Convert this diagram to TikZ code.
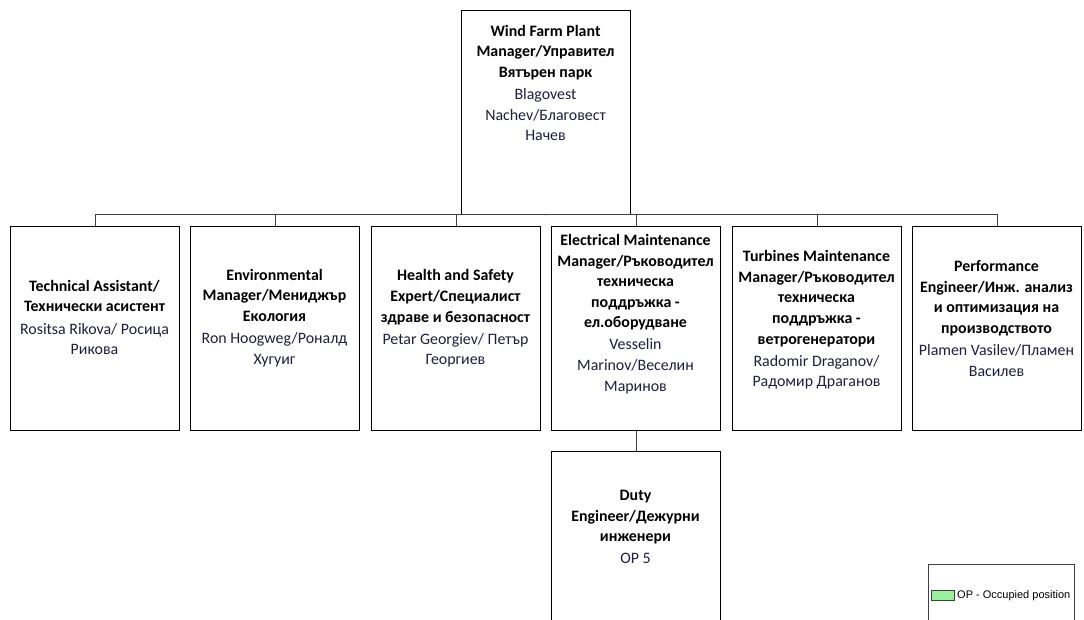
\documentclass[tikz,border=0pt]{standalone}
\usepackage{fontspec}
\setmainfont{Carlito}
\newfontfamily\legendfont{Liberation Sans}
\definecolor{conncol}{HTML}{404040}
\definecolor{nametext}{HTML}{1E1E40}
\definecolor{opgreen}{HTML}{98F098}
\begin{document}
\begin{tikzpicture}[x=1pt,y=-1pt,
  posbox/.style={draw=black,line width=1.2pt,rectangle,minimum width=169pt,minimum height=204pt,inner sep=0pt,anchor=north west},
  postext/.style={align=center,font=\fontsize{15.9}{20.6}\selectfont,inner sep=0pt},
  conn/.style={draw=conncol,line width=0.9pt},
]
\useasboundingbox (0,0) rectangle (1084,620);
\clip (0,0) rectangle (1084,620);
\fill[white] (0,0) rectangle (1084,620);

% boxes
\node[posbox] (top) at (461,10) {};
\node[posbox] (c1) at (10,226) {};
\node[posbox] (c2) at (190,226) {};
\node[posbox] (c3) at (371,226) {};
\node[posbox] (c4) at (551,226) {};
\node[posbox] (c5) at (732,226) {};
\node[posbox] (c6) at (912,226) {};
\node[posbox] (duty) at (551,451) {};

% texts
\node[postext] (ttop) at (545.5,83) {\textbf{Wind Farm Plant}\\\textbf{Manager/Управител}\\\textbf{Вятърен парк}\\[1.5pt]{\color{nametext}Blagovest}\\{\color{nametext}Nachev/Благовест}\\{\color{nametext}Начев}};
\node[postext] (t1) at (94.5,317.5) {\textbf{Technical Assistant/}\\\textbf{Технически асистент}\\[1.5pt]{\color{nametext}Rositsa Rikova/ Росица}\\{\color{nametext}Рикова}};
\node[postext] (t2) at (274.5,318) {\textbf{Environmental}\\\textbf{Manager/Мениджър}\\\textbf{Екология}\\[1.5pt]{\color{nametext}Ron Hoogweg/Роналд}\\{\color{nametext}Хугуиг}};
\node[postext] (t3) at (455.5,318.5) {\textbf{Health and Safety}\\\textbf{Expert/Специалист}\\\textbf{здраве и безопасност}\\[1.5pt]{\color{nametext}Petar Georgiev/ Петър}\\{\color{nametext}Георгиев}};
\node[postext] (t4) at (635.5,314) {\textbf{Electrical Maintenance}\\\textbf{Manager/Ръководител}\\\textbf{техническа}\\\textbf{поддръжка -}\\\textbf{ел.оборудване}\\[1.5pt]{\color{nametext}Vesselin}\\{\color{nametext}Marinov/Веселин}\\{\color{nametext}Маринов}};
\node[postext] (t5) at (816.5,320) {\textbf{Turbines Maintenance}\\\textbf{Manager/Ръководител}\\\textbf{техническа}\\\textbf{поддръжка -}\\\textbf{ветрогенератори}\\[1.5pt]{\color{nametext}Radomir Draganov/}\\{\color{nametext}Радомир Драганов}};
\node[postext] (t6) at (996.5,318.5) {\textbf{Performance}\\\textbf{Engineer/Инж. анализ}\\\textbf{и оптимизация на}\\\textbf{производството}\\[1.5pt]{\color{nametext}Plamen Vasilev/Пламен}\\{\color{nametext}Василев}};
\node[postext] (tduty) at (635.5,527) {\textbf{Duty}\\\textbf{Engineer/Дежурни}\\\textbf{инженери}\\[1.5pt]{\color{nametext}OP 5}};

% connectors
\coordinate (bus) at (545.5,214);
\draw[conn] (top.south) -- (bus);
\foreach \c in {c1,c2,c3,c4,c5,c6}{\draw[conn] (bus) -| (\c.north);}
\draw[conn] (c4.south) -- (duty.north);

% legend
\node[draw=conncol,line width=0.9pt,rectangle,minimum width=146pt,minimum height=80pt,anchor=north west,inner sep=0pt] (legend) at (927.5,564) {};
\node[draw=conncol,fill=opgreen,line width=0.8pt,rectangle,minimum width=23pt,minimum height=10.5pt,inner sep=0pt,anchor=west] (legsw) at (931,595.5) {};
\node[anchor=west,inner sep=0pt,font=\legendfont\fontsize{11}{13}\selectfont,text=black] (legtxt) at (957,596) {OP - Occupied position};
\end{tikzpicture}
\end{document}
